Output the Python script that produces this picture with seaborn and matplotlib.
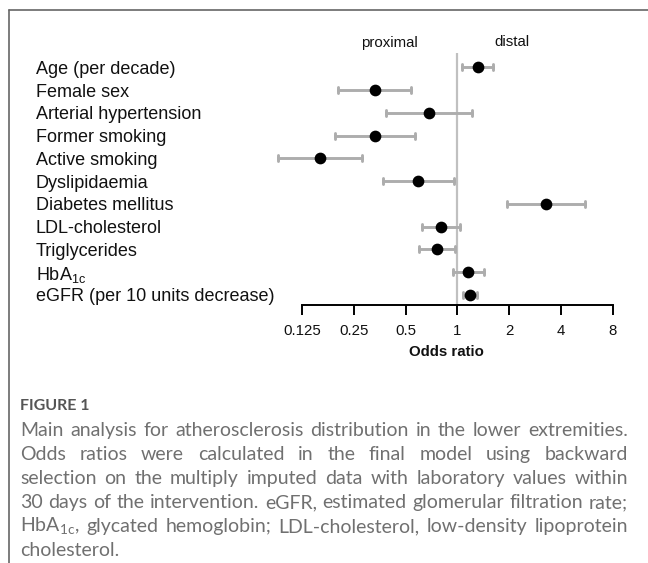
import numpy as np
import pandas as pd
import matplotlib
matplotlib.use("Agg")
import matplotlib.pyplot as plt
import seaborn as sns
from matplotlib.lines import Line2D
from matplotlib.ticker import NullLocator

# ---------------- data ----------------
variables = ["Age (per decade)", "Female sex", "Arterial hypertension", "Former smoking",
             "Active smoking", "Dyslipidaemia", "Diabetes mellitus", "LDL-cholesterol",
             "Triglycerides", r"HbA$_{\mathregular{1c}}$", "eGFR (per 10 units decrease)"]
odds_ratio = [1.32, 0.33, 0.68, 0.333, 0.159, 0.592, 3.27, 0.80, 0.763, 1.15, 1.18]
ci_lower = [1.06, 0.203, 0.384, 0.195, 0.091, 0.368, 1.94, 0.624, 0.60, 0.945, 1.08]
ci_upper = [1.61, 0.54, 1.22, 0.568, 0.278, 0.95, 5.5, 1.03, 0.97, 1.43, 1.29]
xticks = [0.125, 0.25, 0.5, 1, 2, 4, 8]
xtick_labels = ["0.125", "0.25", "0.5", "1", "2", "4", "8"]
side_labels = ["proximal", "distal"]
x_label = "Odds ratio"
fig_title = "FIGURE 1"
caption_lines = [
    "Main analysis for atherosclerosis distribution in the lower extremities.",
    "Odds ratios were calculated in the final model using backward",
    "selection on the multiply imputed data with laboratory values within",
    "30 days of the intervention. eGFR, estimated glomerular filtration rate;",
    r"HbA$_{\mathregular{1c}}$, glycated hemoglobin; LDL-cholesterol, low-density lipoprotein",
    "cholesterol.",
]

long = pd.DataFrame({
    "variable": variables * 3,
    "value": ci_lower + odds_ratio + ci_upper,
})

# ---------------- style ----------------
sns.set_theme(style="white")
plt.rcParams['font.family'] = ['Liberation Sans', 'DejaVu Sans']

W, H = 648, 563
fig = plt.figure(figsize=(W / 100, H / 100), dpi=100)

px_per_doubling = 51.8
x_one = 457.5
L, R = 250, 640
T, B = 53, 305
y0, row_sp = 67.3, 22.75

ax = fig.add_axes([L / W, 1 - B / H, (R - L) / W, (B - T) / H])
ax.set_xscale('log', base=2)
ax.axvline(1, color='#c0c0c0', lw=1.6, zorder=0)

sns.pointplot(data=long, x="value", y="variable", order=variables,
              estimator=np.median, errorbar=lambda v: (v.min(), v.max()),
              color="black", markers="o", markersize=6.4, linestyle="none",
              capsize=0.26,
              err_kws={'color': '#adadad', 'linewidth': 2.1, 'zorder': 1},
              ax=ax)

ax.set_xlim(2 ** ((L - x_one) / px_per_doubling), 2 ** ((R - x_one) / px_per_doubling))
ax.set_ylim(10 + (B - (y0 + 10 * row_sp)) / row_sp, -(y0 - T) / row_sp)

for s in ["left", "right", "top"]:
    ax.spines[s].set_visible(False)
ax.spines["bottom"].set_bounds(xticks[0], xticks[-1])
ax.spines["bottom"].set_linewidth(1.4)
ax.spines["bottom"].set_color("black")

ax.xaxis.set_minor_locator(NullLocator())
ax.set_xticks(xticks, xtick_labels)
ax.tick_params(axis='x', bottom=True, length=7, width=1.4, color='black',
               labelsize=10.8, pad=7, labelcolor='#111111')
ax.tick_params(axis='y', left=False, labelsize=13, pad=(L - 44) * 0.72, labelcolor='#111111')
for lbl in ax.get_yticklabels():
    lbl.set_ha('left')
ax.set_ylabel("")
ax.set_xlabel(x_label, fontsize=10.8, fontweight='bold', color='#111111')
ax.xaxis.set_label_coords((446.7 - L) / (R - L), (B - 345) / (B - T))

fig.text(389 / W, 1 - 42.5 / H, side_labels[0], ha='center', va='center', fontsize=10.8, color='#111111')
fig.text(512 / W, 1 - 42.5 / H, side_labels[1], ha='center', va='center', fontsize=10.8, color='#111111')

# frame
fig.add_artist(Line2D([8.5 / W, 1], [1 - 10 / H, 1 - 10 / H], color='#666666', lw=1.2))
fig.add_artist(Line2D([8.5 / W, 8.5 / W], [0, 1 - 10 / H], color='#666666', lw=1.2))

# caption
cap_color = '#707070'
cap_font = ['Lato', 'DejaVu Sans']
cap_left, cap_right = 20, 628
renderer = fig.canvas.get_renderer()

def word_w(word, size):
    t = fig.text(0, 0, word, fontsize=size, family=cap_font)
    w = t.get_window_extent(renderer).width
    t.remove()
    return w

# fit size so the widest justified line fits naturally
size = 12.5
maxw = max(word_w(l, size) for l in caption_lines[:-1])
size = size * (cap_right - cap_left - 4) / maxw

fig.text(cap_left / W, 1 - 406 / H, fig_title, fontsize=size * 0.82, family=cap_font,
         fontweight='bold', color='#555555', va='center', ha='left')

line_centers = [429, 453, 477, 501, 525, 549]
space_w = word_w("a b", size) - word_w("ab", size)
for i, (line, yc) in enumerate(zip(caption_lines, line_centers)):
    words = line.split(" ")
    widths = [word_w(w, size) for w in words]
    if i < len(caption_lines) - 1 and len(words) > 1:
        gap = (cap_right - cap_left - sum(widths)) / (len(words) - 1)
    else:
        gap = space_w
    x = cap_left
    yb = yc + size * 1.389 * 0.36
    for w, wd in zip(words, widths):
        fig.text(x / W, 1 - yb / H, w, fontsize=size, family=cap_font, color=cap_color,
                 va='baseline', ha='left')
        x += wd + gap

fig.savefig("out.png", dpi=100)
